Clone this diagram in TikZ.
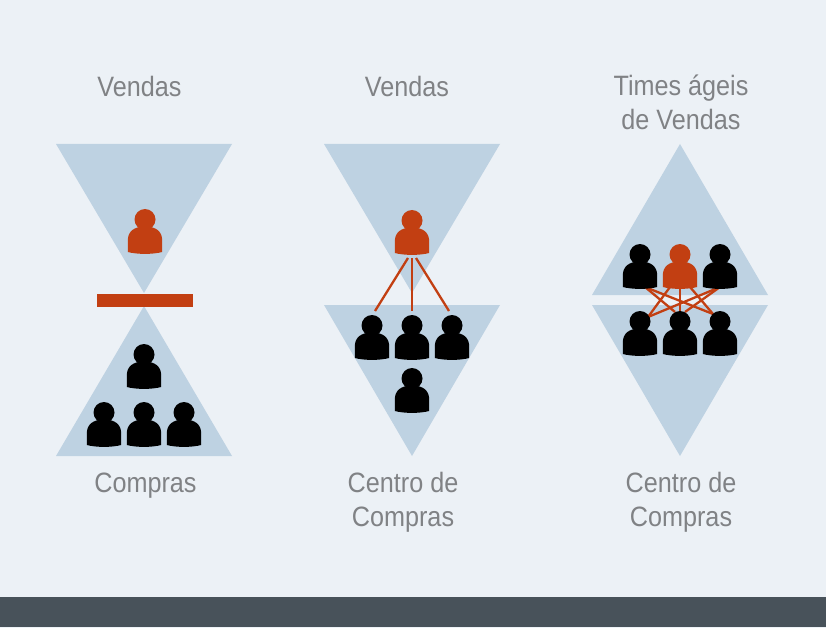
\documentclass[tikz,border=0pt]{standalone}
\usepackage{fontspec}
\setmainfont[FakeStretch=0.9]{Liberation Sans}
\definecolor{bgc}{HTML}{ECF1F6}
\definecolor{tric}{HTML}{BED2E2}
\definecolor{redc}{HTML}{C23F12}
\definecolor{barc}{HTML}{48525A}
\definecolor{txtc}{HTML}{808285}
\tikzset{
  tri/.style={fill=tric,draw=none},
  lbl/.style={text=txtc,font=\fontsize{28}{34}\selectfont,align=center,inner sep=0pt,anchor=center},
  link/.style={draw=redc,line width=2.3pt},
  pics/person/.style={code={
    \path[pic actions] (0,0) circle[radius=10.5];
    \path[pic actions] (-17.2,32.5) -- (-17.2,21) .. controls (-17.2,12) and (-11,7) .. (0,7)
      .. controls (11,7) and (17.2,12) .. (17.2,21) -- (17.2,32.5)
      .. controls (8,35) and (-8,35) .. (-17.2,32.5) -- cycle;
  }}
}
\begin{document}
\begin{tikzpicture}[x=1pt,y=-1pt]
\useasboundingbox (0,0) rectangle (826,628);
\fill[bgc] (0,0) rectangle (826,628);
\fill[barc] (0,597) rectangle (826,627);
% triangles
\fill[tri] (56,144) -- (232,144) -- (144,293) -- cycle;
\fill[tri] (144,306) -- (232,456) -- (56,456) -- cycle;
\fill[tri] (324,144) -- (500,144) -- (412,293) -- cycle;
\fill[tri] (324,305) -- (500,305) -- (412,456) -- cycle;
\fill[tri] (680,144) -- (768,295) -- (592,295) -- cycle;
\fill[tri] (592,305) -- (768,305) -- (680,456) -- cycle;
\fill[redc] (97,294) rectangle (193,306.5);
% connector ends
\coordinate (bS1) at (408,258); \coordinate (bS2) at (412,258); \coordinate (bS3) at (416,258);
\coordinate (bT1) at (375,311); \coordinate (bT2) at (412,311); \coordinate (bT3) at (449,311);
\draw[link] (bS1) -- (bT1);
\draw[link] (bS2) -- (bT2);
\draw[link] (bS3) -- (bT3);
\coordinate (cA) at (645,287); \coordinate (cB1) at (670,287); \coordinate (cB2) at (680,287);
\coordinate (cB3) at (690,287); \coordinate (cC) at (720,287);
\coordinate (cL) at (648,317); \coordinate (cM1) at (675,312); \coordinate (cM2) at (680,312);
\coordinate (cM3) at (685,312); \coordinate (cR) at (713,314);
\draw[link] (cA) -- (cM1);
\draw[link] (cA) -- (cR);
\draw[link] (cB1) -- (cL);
\draw[link] (cB2) -- (cM2);
\draw[link] (cB3) -- (cR);
\draw[link] (cC) -- (cL);
\draw[link] (cC) -- (cM3);
% people
\pic[fill=redc] at (145,219.5) {person};
\pic[fill=black] at (144,354.5) {person};
\pic[fill=black] at (104,412.5) {person};
\pic[fill=black] at (144,412.5) {person};
\pic[fill=black] at (184,412.5) {person};
\pic[fill=redc] at (412,220.5) {person};
\pic[fill=black] at (372,325.5) {person};
\pic[fill=black] at (412,325.5) {person};
\pic[fill=black] at (452,325.5) {person};
\pic[fill=black] at (412,378.5) {person};
\pic[fill=black] at (640,254.5) {person};
\pic[fill=redc] at (680,254.5) {person};
\pic[fill=black] at (720,254.5) {person};
\pic[fill=black] at (640,321.5) {person};
\pic[fill=black] at (680,321.5) {person};
\pic[fill=black] at (720,321.5) {person};
% labels
\node[lbl] (t1) at (139.5,86) {Vendas};
\node[lbl] (t2) at (407,86) {Vendas};
\node[lbl] (t3) at (681,102.5) {Times ágeis\\de Vendas};
\node[lbl] (b1) at (145.5,485.5) {Compras};
\node[lbl] (b2) at (403,502) {Centro de\\Compras};
\node[lbl] (b3) at (681,502) {Centro de\\Compras};
\end{tikzpicture}
\end{document}
